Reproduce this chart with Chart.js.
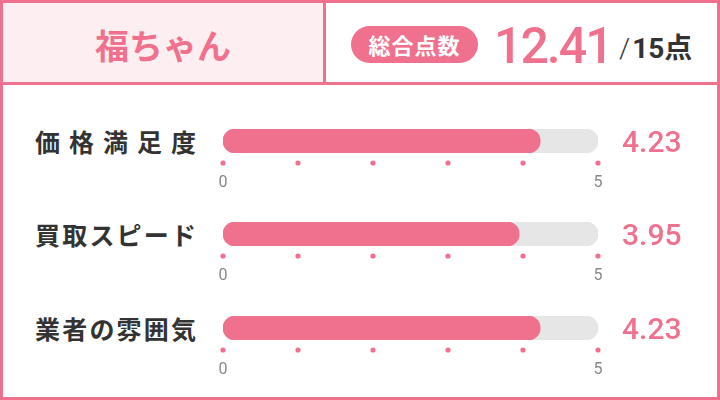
<!DOCTYPE html>
<html lang="ja">
<head>
<meta charset="utf-8">
<script src="https://cdn.jsdelivr.net/npm/chart.js@4/dist/chart.umd.min.js"></script>
<style>
  body { margin: 0; background: #fff; font-family: "Noto Sans CJK JP", sans-serif; }
  #card { position: relative; width: 720px; height: 400px; box-sizing: border-box; border: 3px solid #f0718d; overflow: hidden; }
  #head { position: absolute; left: 0; top: 0; width: 714px; height: 79px; border-bottom: 3px solid #f0718d; }
  #name { position: absolute; left: 0; top: 0; width: 320px; height: 79px; background: #fdeef2; border-right: 3px solid #f0718d;
          color: #f0718d; font-size: 34px; font-weight: 700; text-align: center; line-height: 84px; }
  #badge { position: absolute; left: 348px; top: 23px; width: 127px; height: 37px; border-radius: 19px; background: #f0718d;
           color: #fff; font-size: 22px; font-weight: 700; text-align: center; line-height: 37px; letter-spacing: 1px; }
  #total { position: absolute; left: 491px; top: 18px; color: #f0718d; font-family: Roboto, sans-serif; font-size: 50px;
           font-weight: 500; line-height: 50px; letter-spacing: -2px; }
  #outof { position: absolute; left: 616px; top: 31px; color: #333; font-size: 28px; font-weight: 700; line-height: 30px; font-family: Roboto, "Noto Sans CJK JP", sans-serif; }
  #outof .sl { font-weight: 300; margin-right: 2px; }
  .label { position: absolute; left: 32px; width: 161px; color: #333; font-size: 25px; font-weight: 700; text-align: justify;
           text-align-last: justify; line-height: 30px; white-space: nowrap; }
  .row { position: absolute; left: 207px; width: 490px; height: 75px; }
</style>
</head>
<body>
<div id="card">
  <div id="head">
    <div id="name">福ちゃん</div>
    <div id="badge">総合点数</div>
    <div id="total"></div>
    <div id="outof"></div>
  </div>
</div>
<script>
const shopName = '福ちゃん';
const categories = ['価格満足度', '買取スピード', '業者の雰囲気'];
const scores = [4.23, 3.95, 4.23];
const maxScore = 5;
const shownTicks = [0, 5];
const rowTops = [126, 219, 313];

const pink = '#f0718d';

let total = scores.reduce((a, b) => a + b, 0);
document.getElementById('total').textContent = total.toFixed(2);
document.getElementById('outof').innerHTML = '<span class="sl">/</span>' + (maxScore * categories.length) + '点';

// 目盛りの位置に丸を描く + 右側に点数
const dotsAndValue = {
  id: 'dotsAndValue',
  afterDraw(chart) {
    const ctx = chart.ctx;
    const x = chart.scales.x;
    const area = chart.chartArea;
    ctx.save();
    ctx.fillStyle = pink;
    x.ticks.forEach(t => {
      ctx.beginPath();
      ctx.arc(x.getPixelForValue(t.value), area.bottom + 10, 2.6, 0, Math.PI * 2);
      ctx.fill();
    });
    const bar = chart.getDatasetMeta(0).data[0];
    ctx.font = '500 30px Roboto';
    ctx.textBaseline = 'alphabetic';
    ctx.textAlign = 'left';
    ctx.fillText(chart.data.datasets[0].data[0].toFixed(2), area.right + 24, bar.y + 10.7);
    ctx.restore();
  }
};

const card = document.getElementById('card');

function build() {
  for (let i = 0; i < categories.length; i++) {
    let lab = document.createElement('div');
    lab.className = 'label';
    lab.textContent = categories[i];
    lab.style.top = (rowTops[i] + 12 - 15) + 'px';
    card.appendChild(lab);

    let row = document.createElement('div');
    row.className = 'row';
    row.style.top = rowTops[i] + 'px';
    let cv = document.createElement('canvas');
    row.appendChild(cv);
    card.appendChild(row);

    new Chart(cv.getContext('2d'), {
      type: 'bar',
      data: {
        labels: [categories[i]],
        datasets: [{
          data: [scores[i]],
          backgroundColor: pink,
          borderRadius: 12,
          borderSkipped: false,
          barThickness: 24,
          grouped: false,
          order: 0
        }, {
          data: [maxScore],
          backgroundColor: '#e6e6e6',
          borderRadius: 12,
          borderSkipped: false,
          barThickness: 24,
          grouped: false,
          order: 1
        }]
      },
      options: {
        indexAxis: 'y',
        responsive: true,
        maintainAspectRatio: false,
        animation: false,
        layout: { padding: { left: 13, right: 102, top: 0, bottom: 6 } },
        plugins: { legend: { display: false }, tooltip: { enabled: false } },
        scales: {
          y: { display: false },
          x: {
            min: 0,
            max: maxScore,
            grid: { display: false, drawTicks: false },
            border: { display: false },
            afterFit(s) { s.paddingLeft = 0; s.paddingRight = 0; s.height = 45; },
            ticks: {
              stepSize: 1,
              autoSkip: false,
              maxRotation: 0,
              padding: 20,
              color: '#888',
              font: { family: 'Roboto', size: 16 },
              callback: v => shownTicks.includes(v) ? v : ''
            }
          }
        }
      },
      plugins: [dotsAndValue]
    });
  }
}

document.fonts.load('16px Roboto').then(() => document.fonts.load('500 30px Roboto')).then(build, build);
</script>
</body>
</html>
